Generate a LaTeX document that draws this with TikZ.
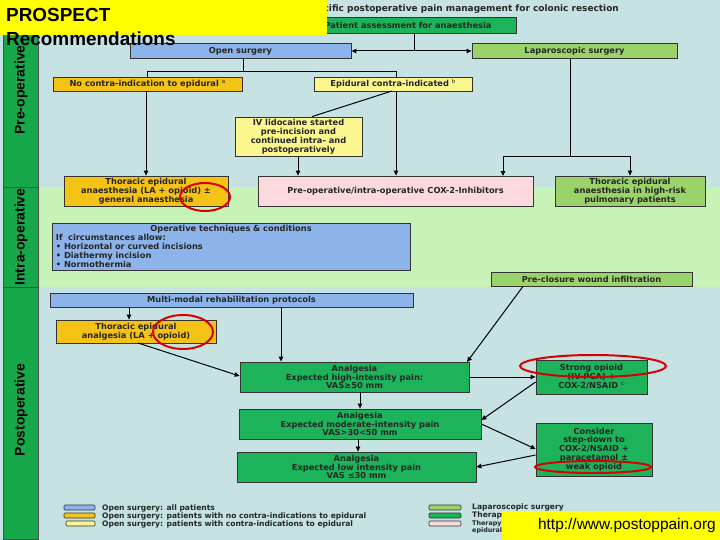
\documentclass[tikz,border=0pt]{standalone}
\usepackage{fontspec}
\setmainfont{Liberation Sans}
\newfontfamily\wide{DejaVu Sans}
\usetikzlibrary{arrows.meta,calc}
\definecolor{bgc}{HTML}{C6E2E2}
\definecolor{intrac}{HTML}{C7F3B8}
\definecolor{blu}{HTML}{8CB4EA}
\definecolor{ora}{HTML}{F5C216}
\definecolor{lye}{HTML}{FBF68D}
\definecolor{pnk}{HTML}{FBD9DC}
\definecolor{lgr}{HTML}{9BD36B}
\definecolor{grn}{HTML}{1DB35B}
\definecolor{colg}{HTML}{18A84C}
\definecolor{yel}{HTML}{FFFF00}
\tikzset{
 bx/.style={draw=black!80, line width=0.8pt, inner sep=1pt, align=center, font=\wide\bfseries\fontsize{8.3}{8.9}\selectfont, text=black!85},
 ar/.style={-{Triangle[length=5pt,width=4.5pt]}, line width=1pt},
 ln/.style={line width=1pt},
 redc/.style={draw=red!85!black, line width=2pt},
 colbox/.style={fill=colg, draw=black!70, line width=0.6pt},
 coltext/.style={rotate=90, font=\bfseries\fontsize{14}{16}\selectfont},
 leg/.style={draw=black!80, line width=0.6pt, rounded corners=1pt},
 legt/.style={anchor=west, font=\wide\bfseries\fontsize{7.6}{8}\selectfont, text=black!85, inner sep=0pt}
}
\begin{document}
\begin{tikzpicture}[x=1bp,y=-1bp]
\useasboundingbox (0,0) rectangle (720,540);
\fill[bgc] (0,0) rectangle (720,540);
\fill[intrac] (40,187) rectangle (720,287);
% left column
\draw[colbox] (3,0) rectangle (38,187);
\draw[colbox] (3,187) rectangle (38,287);
\draw[colbox] (3,287) rectangle (38,539);
\node[coltext] (lpre) at (21,90) {Pre-operative};
\node[coltext] (lintra) at (21,237) {Intra-operative};
\node[coltext] (lpost) at (21,410) {Postoperative};
% title
\node[anchor=east, font=\wide\bfseries\fontsize{9}{10}\selectfont, text=black!85, inner sep=0pt] (title) at (619,9) {Procedure-specific postoperative pain management for colonic resection};
% boxes
\node[bx, fill=grn, minimum width=216bp, minimum height=16bp] (pat) at (408,25) {Patient assessment for anaesthesia};
\node[bx, fill=blu, minimum width=221bp, minimum height=15bp] (open) at (240.5,51) {Open surgery};
\node[bx, fill=lgr, minimum width=205bp, minimum height=15bp] (lap) at (574.5,51) {Laparoscopic surgery};
\node[bx, fill=ora, minimum width=189bp, minimum height=14bp] (noc) at (147.5,84) {No contra-indication to epidural $^{\mathrm{a}}$};
\node[bx, fill=lye, minimum width=158bp, minimum height=14bp] (epc) at (393,84) {Epidural contra-indicated $^{\mathrm{b}}$};
\node[bx, fill=lye, minimum width=127bp, minimum height=39bp] (iv) at (298.5,136.5) {IV lidocaine started\\pre-incision and\\continued intra- and\\postoperatively};
\node[bx, fill=ora, minimum width=164bp, minimum height=30bp] (th1) at (146,191) {Thoracic epidural\\anaesthesia (LA + opioid) ±\\general anaesthesia};
\node[bx, fill=pnk, minimum width=275bp, minimum height=30bp] (cox) at (395.5,191) {Pre-operative/intra-operative COX-2-Inhibitors};
\node[bx, fill=lgr, minimum width=150bp, minimum height=30bp] (th2) at (630,191) {Thoracic epidural\\anaesthesia in high-risk\\pulmonary patients};
\node[bx, fill=blu, minimum width=358bp, minimum height=47bp, align=left, text width=350bp] (opt) at (231,246.5) {\centering Operative techniques \& conditions\par\raggedright If~ circumstances allow:\\• Horizontal or curved incisions\\• Diathermy incision\\• Normothermia};
\node[bx, fill=lgr, minimum width=201bp, minimum height=14bp] (pre) at (591.5,279) {Pre-closure wound infiltration};
\node[bx, fill=blu, minimum width=363bp, minimum height=14bp] (mm) at (231.5,300) {Multi-modal rehabilitation protocols};
\node[bx, fill=ora, minimum width=160bp, minimum height=23bp] (th3) at (136,331.5) {Thoracic epidural\\analgesia (LA + opioid)};
\node[bx, fill=grn, minimum width=229bp, minimum height=30bp] (hi) at (354.5,377) {Analgesia\\Expected high-intensity pain:\\VAS≥50 mm};
\node[bx, fill=grn, minimum width=242bp, minimum height=30bp] (mo) at (360,424) {Analgesia\\Expected moderate-intensity pain\\VAS>30<50 mm};
\node[bx, fill=grn, minimum width=239bp, minimum height=30bp] (lo) at (356.5,467) {Analgesia\\Expected low intensity pain\\VAS ≤30 mm};
\node[bx, fill=grn, minimum width=111bp, minimum height=34bp] (so) at (591.5,377) {Strong opioid\\(IV-PCA) +\\COX-2/NSAID $^{\mathrm{c}}$};
\node[bx, fill=grn, minimum width=116bp, minimum height=53bp] (cs) at (594,449.5) {Consider\\step-down to\\COX-2/NSAID +\\paracetamol ±\\weak opioid};
% connectors
\coordinate (j1) at (414,51);
\draw[ln] (pat.south -| j1) -- (j1);
\draw[ar] (j1) -- (open.east);
\draw[ar] (j1) -- (lap.west);
\draw[ln] (243,58) |- (147,72) -- (147,77);
\draw[ln] (243,72) -| (396,77);
\draw[ar] (noc.south -| 146,0) -- (th1.north -| 146,0);
\draw[ar] (epc.south -| 396,0) -- (cox.north -| 396,0);
\draw[ln] (392,91) -- (iv.north -| 312,0);
\draw[ar] (iv.south -| 298,0) -- (cox.north -| 298,0);
\draw[ln] (lap.south -| 570,0) -- (570,156);
\draw[ar] (503,156) -- (503,176);
\draw[ar] (630,156) -- (th2.north -| 630,0);
\draw[ln] (503,156) -- (630,156);
\draw[ar] (mm.south -| 129,0) -- (th3.north -| 129,0);
\draw[ar] (mm.south -| 281,0) -- (hi.north -| 281,0);
\draw[ar] (pre.south -| 523,0) -- (467,362);
\draw[ar] (138,343) -- (hi.west |- 0,376);
\draw[ar] (hi.south -| 360,0) -- (mo.north -| 360,0);
\draw[ar] (mo.south -| 358,0) -- (lo.north -| 358,0);
\draw[ar] (hi.east |- 0,377) -- (so.west |- 0,377);
\draw[ar] (so.west |- 0,382) -- (mo.east |- 0,420);
\draw[ar] (mo.east |- 0,424) -- (cs.west |- 0,449);
\draw[ar] (cs.west |- 0,455) -- (lo.east |- 0,467);
% legend
\draw[leg, fill=blu] (64,505) rectangle (95,510);
\draw[leg, fill=ora] (64,513) rectangle (95,518);
\draw[leg, fill=lye] (66,521) rectangle (95,526);
\node[legt] (l1) at (102,508) {Open surgery: all patients};
\node[legt] (l2) at (102,516) {Open surgery: patients with no contra-indications to epidural};
\node[legt] (l3) at (102,524) {Open surgery: patients with contra-indications to epidural};
\draw[leg, fill=lgr] (429,505) rectangle (461,510);
\draw[leg, fill=grn] (429,513) rectangle (461,518);
\draw[leg, fill=pnk] (429,521) rectangle (461,526);
\node[legt] (r1) at (472,507) {Laparoscopic surgery};
\node[legt] (r2) at (472,515) {Therapy for all patients};
\node[legt, align=left, font=\wide\bfseries\fontsize{6.4}{6.6}\selectfont] (r3) at (472,527.5) {Therapy: open surgery with\\epidural contra-indicated};
% red ellipses
\draw[redc] (205,197) ellipse (25 and 14);
\draw[redc] (183,332) ellipse (30 and 17);
\draw[redc] (593,366) ellipse (73 and 11);
\draw[redc] (593,467) ellipse (58 and 6);
% overlays
\fill[yel] (0,0) rectangle (327,35);
\node[anchor=north west, inner sep=0pt, align=left, font=\bfseries\fontsize{19}{24}\selectfont, text=black] (pros) at (6,8) {PROSPECT\\Recommendations};
\fill[yel] (502,511) rectangle (720,540);
\node[anchor=east, inner sep=0pt, font=\fontsize{15.5}{18}\selectfont, text=black] (url) at (716,526) {http://www.postoppain.org};
\end{tikzpicture}
\end{document}
